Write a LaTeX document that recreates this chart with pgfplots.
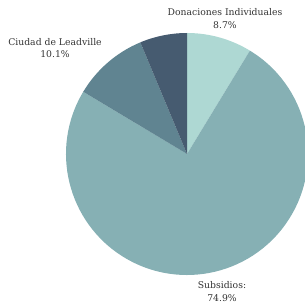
\documentclass[border=0pt]{standalone}
\usepackage{fontspec}
\setmainfont{DejaVu Serif}
\usepackage{pgfplots}
\usepackage{pgfplotstable}
\pgfplotsset{compat=1.18}
\definecolor{pie0}{HTML}{AED8D3}
\definecolor{pie1}{HTML}{86B0B4}
\definecolor{pie2}{HTML}{608491}
\definecolor{pie3}{HTML}{465B70}
\definecolor{txt}{HTML}{333333}
\pgfplotstableread{
share
8.7
74.9
10.1
6.3
}\pietable
\begin{document}
\begin{tikzpicture}
\useasboundingbox (0,0) rectangle (305bp,304bp);
\begin{axis}[
  at={(187bp,150bp)}, anchor=origin,
  x=1bp, y=1bp,
  xmin=-187, xmax=118, ymin=-150, ymax=154,
  hide axis, clip=true,
]
\pgfmathsetmacro\start{90}
\pgfplotsforeachungrouped \i in {0,...,3}{%
  \pgfplotstablegetelem{\i}{share}\of\pietable
  \pgfmathsetmacro\stop{\start - 3.6*\pgfplotsretval}%
  \edef\temp{\noexpand\fill[pie\i] (axis cs:0,0) -- (axis cs:{121*cos(\start)},{121*sin(\start)}) arc[start angle=\start, end angle=\stop, radius=121bp] -- cycle;}%
  \temp
  \let\start\stop
}
\end{axis}
\begin{axis}[
  at={(187bp,150bp)}, anchor=origin,
  x=1bp, y=1bp,
  xmin=-187, xmax=118, ymin=-150, ymax=154,
  hide axis, clip=false,
]
\tikzset{lab/.style={align=center, text=txt, font=\fontsize{9.3}{12.5}\selectfont, inner sep=0pt}}
\node[lab] at (axis cs:38,135.5) {Donaciones Individuales\\8.7\%};
\node[lab] at (axis cs:-132,106) {Ciudad de Leadville\\10.1\%};
\node[lab] at (axis cs:35,-137.5) {Subsidios:\\74.9\%};
\end{axis}
\end{tikzpicture}
\end{document}
